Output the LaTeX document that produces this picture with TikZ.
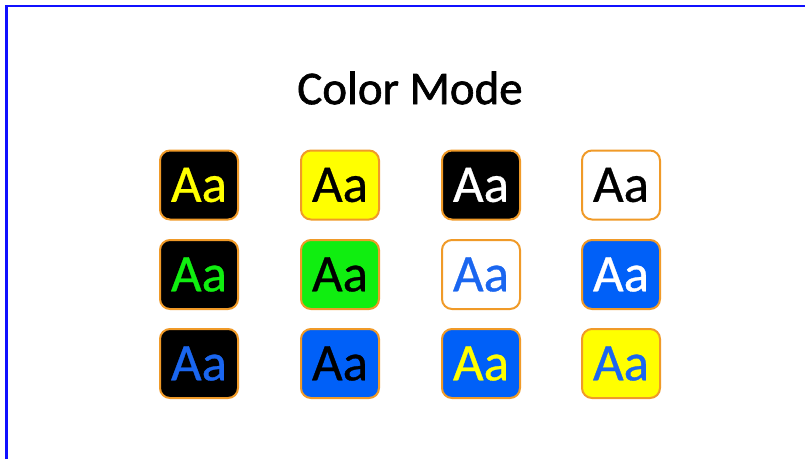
\documentclass[tikz,border=0pt]{standalone}
\usepackage{fontspec}
\setmainfont{Carlito}
\newfontfamily\heavyfont{Carlito}[FakeBold=0.6]
\newfontfamily\titlefont{Carlito}[FakeBold=1.3]
\definecolor{edge}{HTML}{F09A28}
\definecolor{bblue}{HTML}{0060F8}
\definecolor{tblue}{HTML}{1A66F0}
\definecolor{ggreen}{HTML}{10EE10}
\definecolor{yyel}{HTML}{FFFF00}
\definecolor{frame}{HTML}{1010FF}
\tikzset{
  tile/.style={draw=edge, line width=2pt, rounded corners=10pt, minimum width=78pt, minimum height=69pt, inner sep=0pt, font=\heavyfont\fontsize{53}{53}\selectfont},
}
\begin{document}
\begin{tikzpicture}[x=1pt,y=-1pt]
\useasboundingbox (0,0) rectangle (805,459);
\fill[white] (0,0) rectangle (805,459);
\coordinate (tl) at (6.5,6);
\coordinate (tr) at (805,6);
\coordinate (bl) at (6.5,459);
\draw[frame, line width=2.6pt] (bl) -- (tl) -- (tr);
\node[font=\titlefont\fontsize{47}{47}\selectfont] (title) at (410,88) {Color Mode};
% row 1
\node[tile, fill=black, text=yyel] (t11) at (199,185) {Aa};
\node[tile, fill=yyel, text=black] (t12) at (340,185) {Aa};
\node[tile, fill=black, text=white] (t13) at (481,185) {Aa};
\node[tile, fill=white, text=black] (t14) at (621,185) {Aa};
% row 2
\node[tile, fill=black, text=ggreen] (t21) at (199,274.5) {Aa};
\node[tile, fill=ggreen, text=black] (t22) at (340,274.5) {Aa};
\node[tile, fill=white, text=tblue] (t23) at (481,274.5) {Aa};
\node[tile, fill=bblue, text=white] (t24) at (621,274.5) {Aa};
% row 3
\node[tile, fill=black, text=tblue] (t31) at (199,363.5) {Aa};
\node[tile, fill=bblue, text=black] (t32) at (340,363.5) {Aa};
\node[tile, fill=bblue, text=yyel] (t33) at (481,363.5) {Aa};
\node[tile, fill=yyel, text=tblue] (t34) at (621,363.5) {Aa};
\end{tikzpicture}
\end{document}
